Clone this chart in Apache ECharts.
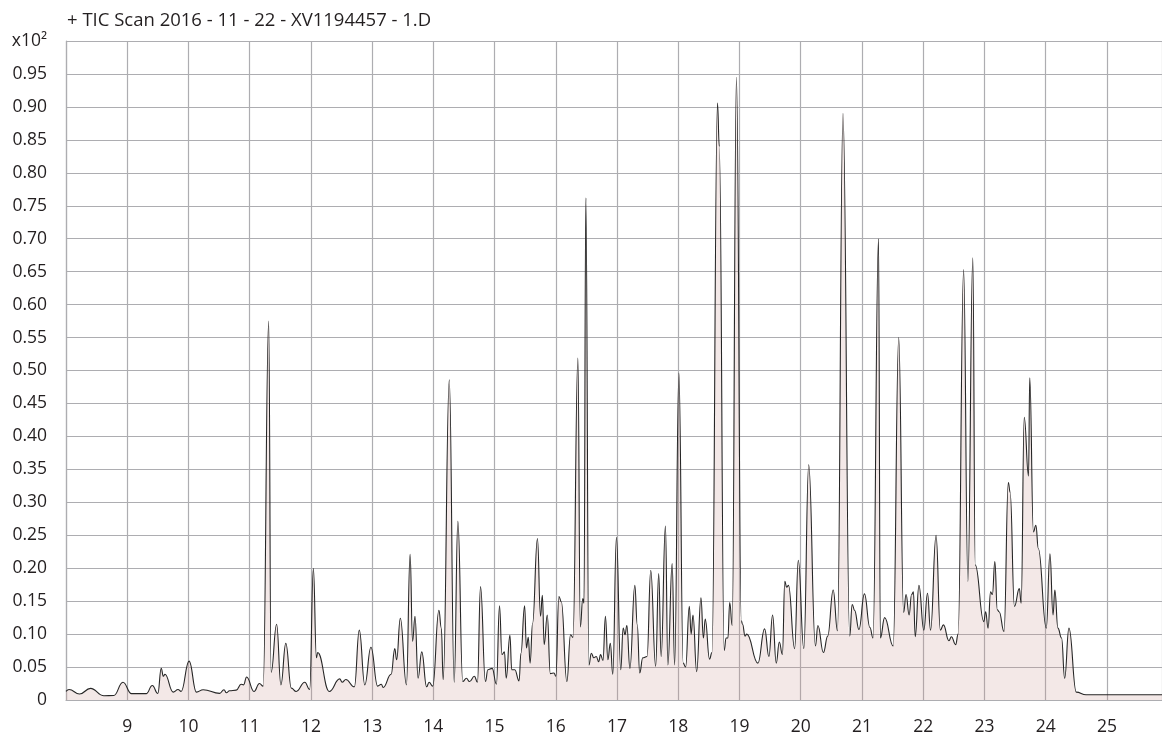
<!DOCTYPE html>
<html>
<head>
<meta charset="utf-8">
<script src="https://cdn.jsdelivr.net/npm/echarts@6/dist/echarts.min.js"></script>
<style>
html,body{margin:0;padding:0;background:#fff;}
#chart{width:1162px;height:736px;}
</style>
</head>
<body>
<div id="chart"></div>
<script>
// Retention time (min) and abundance (x10^2)
const rt = [
 8.00,8.05,8.22,8.40,8.62,8.78,8.93,9.07,9.31,9.41,9.50,9.555,9.59,9.615,9.75,9.83,9.88,10.01,10.13,10.24,
 10.51,10.58,10.62,10.67,10.78,10.86,10.90,10.95,11.07,11.16,11.22,11.31,11.35,11.44,11.51,11.59,11.68,11.76,11.90,11.98,
 12.04,12.09,12.11,12.30,12.47,12.51,12.57,12.71,12.79,12.88,12.98,13.09,13.15,13.18,13.31,13.37,13.40,13.46,13.56,13.62,
 13.66,13.70,13.75,13.81,13.89,13.93,13.99,14.09,14.13,14.16,14.26,14.34,14.40,14.48,14.54,14.59,14.67,14.72,14.77,14.85,
 14.89,14.96,15.03,15.08,15.12,15.16,15.19,15.25,15.28,15.33,15.40,15.43,15.49,15.52,15.55,15.58,15.62,15.70,15.75,15.78,
 15.81,15.86,15.91,15.97,16.00,16.05,16.09,16.18,16.24,16.28,16.36,16.40,16.44,16.46,16.49,16.54,16.58,16.62,16.66,16.70,
 16.73,16.77,16.81,16.85,16.89,16.93,16.99,17.06,17.10,17.13,17.16,17.21,17.29,17.33,17.37,17.42,17.49,17.55,17.63,17.68,
 17.72,17.79,17.83,17.90,17.94,18.01,18.08,18.12,18.18,18.21,18.24,18.30,18.37,18.41,18.44,18.51,18.55,18.64,18.67,18.75,
 18.78,18.81,18.84,18.88,18.95,19.03,19.05,19.09,19.12,19.30,19.41,19.48,19.54,19.60,19.65,19.70,19.74,19.77,19.80,19.90,
 19.96,20.05,20.13,20.24,20.28,20.37,20.44,20.53,20.60,20.69,20.80,20.84,20.88,20.95,21.04,21.13,21.18,21.27,21.30,21.37,
 21.51,21.60,21.68,21.72,21.77,21.81,21.84,21.87,21.93,22.01,22.07,22.12,22.21,22.28,22.33,22.42,22.46,22.53,22.57,22.66,
 22.73,22.81,22.85,22.99,23.02,23.06,23.10,23.13,23.17,23.21,23.24,23.32,23.39,23.42,23.49,23.57,23.60,23.65,23.72,23.74,
 23.80,23.84,23.88,24.01,24.07,24.12,24.15,24.20,24.26,24.31,24.38,24.50,24.66,25.90
];
const tic = [
 0.013,0.016,0.009,0.0176,0.0065,0.0068,0.027,0.0096,0.0096,0.022,0.010,0.048,0.036,0.039,0.012,0.016,0.013,0.059,0.012,0.0156,
 0.010,0.0156,0.011,0.014,0.015,0.024,0.023,0.035,0.013,0.025,0.021,0.575,0.042,0.115,0.023,0.086,0.018,0.013,0.027,0.016,
 0.200,0.064,0.072,0.013,0.032,0.027,0.031,0.020,0.106,0.023,0.080,0.021,0.024,0.019,0.039,0.078,0.061,0.124,0.023,0.221,
 0.089,0.127,0.033,0.073,0.020,0.027,0.021,0.136,0.109,0.031,0.486,0.027,0.271,0.028,0.033,0.028,0.036,0.027,0.172,0.028,
 0.046,0.048,0.024,0.143,0.069,0.073,0.033,0.098,0.046,0.046,0.029,0.071,0.143,0.079,0.095,0.056,0.116,0.245,0.127,0.159,
 0.084,0.129,0.040,0.041,0.036,0.157,0.149,0.028,0.099,0.095,0.519,0.111,0.154,0.147,0.762,0.053,0.071,0.064,0.066,0.058,
 0.069,0.060,0.127,0.061,0.086,0.039,0.247,0.046,0.109,0.099,0.113,0.048,0.174,0.114,0.041,0.064,0.066,0.197,0.051,0.192,
 0.066,0.264,0.053,0.207,0.053,0.496,0.056,0.050,0.142,0.100,0.129,0.043,0.155,0.094,0.123,0.062,0.072,0.906,0.840,0.075,
 0.094,0.094,0.148,0.113,0.945,0.120,0.115,0.097,0.100,0.056,0.108,0.066,0.129,0.056,0.088,0.069,0.180,0.171,0.174,0.078,
 0.212,0.078,0.357,0.082,0.113,0.072,0.097,0.167,0.105,0.890,0.097,0.145,0.136,0.107,0.161,0.110,0.094,0.700,0.094,0.125,
 0.082,0.550,0.133,0.160,0.129,0.160,0.164,0.096,0.174,0.106,0.162,0.106,0.250,0.106,0.114,0.090,0.096,0.084,0.100,0.653,
 0.180,0.671,0.205,0.119,0.134,0.109,0.164,0.160,0.210,0.137,0.134,0.104,0.330,0.315,0.142,0.169,0.147,0.429,0.340,0.489,
 0.255,0.265,0.230,0.109,0.222,0.129,0.167,0.109,0.094,0.033,0.109,0.012,0.008,0.008
];
const titleText = '+ TIC Scan 2016 - 11 - 22 - XV1194457 - 1.D';
const yUnitLabel = 'x10\u00B2';
const xRange = [8, 25.9];
const yRange = [0, 1.0];

const points = rt.map((t, i) => [t, tic[i]]);
const font = '"Open Sans", "Noto Sans", sans-serif';
const gridColor = '#adadb1';
const textColor = '#231f20';

const chart = echarts.init(document.getElementById('chart'), null, {renderer: 'canvas'});
chart.setOption({
  animation: false,
  backgroundColor: '#ffffff',
  title: {
    text: titleText,
    left: 62, top: 6,
    textStyle: {fontFamily: font, fontSize: 18.5, fontWeight: 'normal', color: textColor}
  },
  grid: {left: 66, right: 0, top: 41, bottom: 34},
  xAxis: {
    type: 'value', min: xRange[0], max: xRange[1], interval: 1,
    axisLine: {show: true, lineStyle: {color: gridColor, width: 1.2}},
    axisTick: {show: false},
    splitLine: {show: true, lineStyle: {color: gridColor, width: 1.2}},
    axisLabel: {
      margin: 18, color: textColor, fontFamily: font, fontSize: 17.5,
      showMinLabel: false, showMaxLabel: false,
      formatter: v => (Number.isInteger(v) && v > xRange[0]) ? String(v) : ''
    }
  },
  yAxis: {
    type: 'value', min: yRange[0], max: yRange[1], interval: 0.05,
    axisLine: {show: true, lineStyle: {color: gridColor, width: 1.2}},
    axisTick: {show: false},
    splitLine: {show: true, lineStyle: {color: gridColor, width: 1.2}},
    axisLabel: {
      margin: 19, color: textColor, fontFamily: font, fontSize: 17.5,
      formatter: v => {
        if (Math.abs(v - 1) < 1e-9) return yUnitLabel;
        if (Math.abs(v) < 1e-9) return '0';
        return v.toFixed(2);
      }
    }
  },
  series: [{
    type: 'line',
    data: points,
    showSymbol: false,
    smooth: 0.45,
    smoothMonotone: 'x',
    lineStyle: {color: '#262626', width: 1.1},
    areaStyle: {color: 'rgba(200,148,140,0.3)', origin: 'start'},
    z: 3
  }]
});
</script>
</body>
</html>
